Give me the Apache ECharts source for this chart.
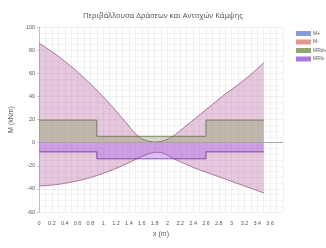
<!DOCTYPE html>
<html>
<head>
<meta charset="utf-8">
<script src="https://cdn.jsdelivr.net/npm/echarts@6/dist/echarts.min.js"></script>
<style>
  html, body { margin: 0; padding: 0; background: #fff; }
  #chart { width: 326px; height: 248px; }
</style>
</head>
<body>
<div id="chart"></div>
<script>
// θέσεις κατά μήκος της δοκού (m)
const xSteps = [0, 0.1, 0.2, 0.3, 0.4, 0.5, 0.6, 0.7, 0.8, 0.9,
  1.0, 1.1, 1.2, 1.3, 1.4, 1.5, 1.6, 1.7, 1.8, 1.9,
  2.0, 2.1, 2.2, 2.3, 2.4, 2.5, 2.6, 2.7, 2.8, 2.9,
  3.0, 3.1, 3.2, 3.3, 3.4, 3.5]
// άνω περιβάλλουσα δράσεων (kNm)
const mUpper = [86, 82.5, 78.7, 74.7, 70.4, 65.9, 61.1, 56.1, 50.8, 45.3,
  39.6, 33.6, 27.4, 20.9, 14.2, 7.6, 3.2, 1.2, 0.5, 1,
  2.8, 6, 10.5, 15, 19.5, 24, 28.5, 33, 37.5, 42,
  46, 50, 54.5, 59, 64, 69]
// κάτω περιβάλλουσα δράσεων (kNm)
const mLower = [-37.5, -37.2, -36.7, -36.1, -35.2, -34.2, -33.0, -31.7, -30.2, -28.5,
  -26.6, -24.5, -22.3, -19.9, -17.3, -14.6, -12, -9.8, -8.3, -8.5,
  -10.8, -14, -16.5, -19, -21.5, -23.5, -25.5, -27.5, -29.5, -31.5,
  -33.5, -35.5, -37.5, -39.5, -41.5, -43.5]
// αντοχές κάμψης
const xRd = [0, 0.9, 0.9, 2.6, 2.6, 3.5]
const mRdPlus = [19.5, 19.5, 5.5, 5.5, 19.5, 19.5]
const mRdMinus = [-8, -8, -14, -14, -8, -8]

const legendNames = ['M+', 'M-', 'MRd+', 'MRd-']
const legendColors = ['#8a9bdc', '#e0998a', '#93a672', '#a878e0']

const pairs = (xs, ys) => xs.map((x, i) => [x, ys[i]])

const chart = echarts.init(document.getElementById('chart'))

chart.setOption({
  animation: false,
  title: {
    text: 'Περιβάλλουσα Δράσεων και Αντοχών Κάμψης',
    left: 'center',
    top: 7,
    textStyle: { fontSize: 7.5, fontWeight: 'normal', color: '#595959', fontFamily: 'Noto Sans' }
  },
  legend: {
    orient: 'vertical',
    left: 291,
    top: 26,
    itemWidth: 15,
    itemHeight: 5,
    itemGap: 3.5,
    icon: 'rect',
    textStyle: { fontSize: 5, color: '#595959', padding: [0, 0, 0, -3] },
    data: legendNames.map((n, i) => ({ name: n, itemStyle: { color: legendColors[i] } }))
  },
  grid: { left: 37, right: 43, top: 27, bottom: 36 },
  xAxis: {
    type: 'value',
    min: 0,
    max: 3.8,
    interval: 0.2,
    name: 'x (m)',
    nameLocation: 'middle',
    nameGap: 19,
    nameTextStyle: { fontSize: 7, color: '#595959' },
    axisLine: { show: false },
    axisTick: { show: false },
    axisLabel: { fontSize: 5.5, color: '#595959', showMaxLabel: false, margin: 8 },
    splitLine: { show: true, lineStyle: { color: '#e6e6e6', width: 0.6 } },
    minorTick: { show: false, splitNumber: 2 },
    minorSplitLine: { show: true, lineStyle: { color: '#e6e6e6', width: 0.6 } }
  },
  yAxis: {
    type: 'value',
    min: -60,
    max: 100,
    interval: 20,
    name: 'M (kNm)',
    nameLocation: 'middle',
    nameRotate: 90,
    nameGap: 22,
    nameTextStyle: { fontSize: 7, color: '#595959' },
    axisLine: { show: true, lineStyle: { color: '#bfbfbf' } },
    axisTick: { show: true, length: 2, lineStyle: { color: '#bfbfbf' } },
    axisLabel: { fontSize: 5.5, color: '#595959', margin: 4 },
    splitLine: { show: true, lineStyle: { color: '#e6e6e6', width: 0.6 } },
    minorTick: { show: false, splitNumber: 4 },
    minorSplitLine: { show: true, lineStyle: { color: '#ececec', width: 0.6 } }
  },
  series: [
    {
      name: 'M+',
      type: 'line',
      data: pairs(xSteps, mUpper),
      symbol: 'none',
      color: legendColors[0],
      lineStyle: { width: 1, color: 'rgba(150,80,130,0.75)' },
      areaStyle: { color: 'rgba(180,100,160,0.5)' }
    },
    {
      name: 'M-',
      type: 'line',
      data: pairs(xSteps, mLower),
      symbol: 'none',
      color: legendColors[1],
      lineStyle: { width: 1, color: 'rgba(150,80,130,0.75)' },
      areaStyle: { color: 'rgba(180,100,160,0.5)' }
    },
    {
      name: 'MRd+',
      type: 'line',
      data: pairs(xRd, mRdPlus),
      symbol: 'none',
      color: legendColors[2],
      lineStyle: { width: 1, color: 'rgba(100,105,70,0.8)' },
      areaStyle: { color: 'rgba(125,155,85,0.5)' }
    },
    {
      name: 'MRd-',
      type: 'line',
      data: pairs(xRd, mRdMinus),
      symbol: 'none',
      color: legendColors[3],
      lineStyle: { width: 1, color: 'rgba(120,50,165,0.85)' },
      areaStyle: { color: 'rgba(170,90,240,0.55)' },
      markLine: {
        silent: true,
        symbol: 'none',
        label: { show: false },
        lineStyle: { color: '#a6a6a6', width: 1, type: 'solid' },
        data: [{ yAxis: 0 }]
      }
    }
  ]
})
</script>
</body>
</html>
